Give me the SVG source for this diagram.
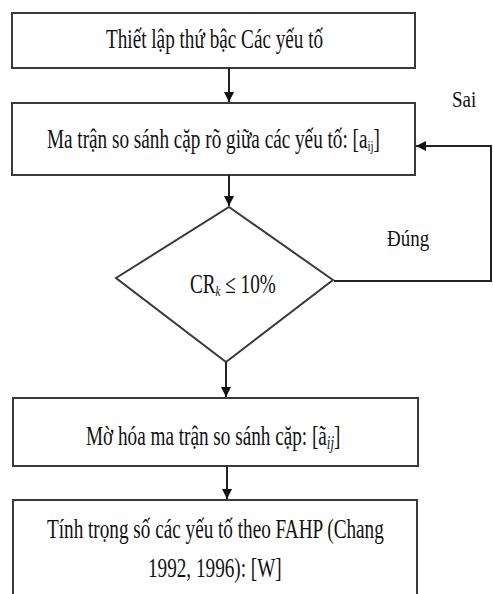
<svg xmlns="http://www.w3.org/2000/svg" width="493" height="594" viewBox="0 0 493 594">
<style>
.box{fill:#fff;stroke:#3a3a3a;stroke-width:2}
.ln{fill:none;stroke:#222;stroke-width:2}
.t{font-family:"Liberation Serif","Times New Roman",serif;font-size:19.2px;fill:#111}
.sub{font-size:11px}
.lb{font-family:"Liberation Serif","Times New Roman",serif;font-size:19px;fill:#111}
</style>
<defs>
<marker id="ah" viewBox="0 0 10 10" refX="10" refY="5" markerWidth="5" markerHeight="5" orient="auto" markerUnits="strokeWidth">
<path d="M0,0 L10,5 L0,10 z" fill="#111"/>
</marker>
</defs>
<g id="n1">
<rect class="box" x="12" y="13" width="403" height="55"/>
<text class="t" x="106" y="34.29" transform="scale(1,1.4)">Thiết lập thứ bậc Các yếu tố</text>
</g>
<g id="n2">
<rect class="box" x="12" y="103" width="403" height="72"/>
<text class="t" x="47" y="105.71" transform="scale(1,1.4)">Ma trận so sánh cặp rõ giữa các yếu tố: [a<tspan class="sub" dy="2.5">ij</tspan><tspan dy="-2.5">]</tspan></text>
</g>
<g id="n3">
<polygon class="box" points="229,207 333,280 226,362 116,278"/>
<text class="t" x="190" y="209.29" font-size="20.5" transform="scale(1,1.4)">CR<tspan class="sub" font-style="italic" dy="2.5">k</tspan><tspan dy="-2.5"> ≤ 10%</tspan></text>
</g>
<g id="n4">
<rect class="box" x="13" y="398" width="405" height="68"/>
<text class="t" x="86" y="317.86" transform="scale(1,1.4)">Mờ hóa ma trận so sánh cặp: [ã<tspan font-size="13" font-style="italic" dy="3">ij</tspan><tspan dy="-3">]</tspan></text>
</g>
<g id="n5">
<rect class="box" x="13" y="500" width="404" height="110"/>
<text class="t" x="47" y="384.29" transform="scale(1,1.4)">Tính trọng số các yếu tố theo FAHP (Chang</text>
<text class="t" x="148" y="412.14" transform="scale(1,1.4)">1992, 1996): [W]</text>
</g>
<g id="labels">
<text class="lb" x="452" y="89.17" transform="scale(1,1.2)">Sai</text>
<text class="lb" x="387" y="205" transform="scale(1,1.2)">Đúng</text>
</g>
<g id="connectors">
<line class="ln" x1="229" y1="68" x2="229" y2="102" marker-end="url(#ah)"/>
<line class="ln" x1="229" y1="175" x2="229" y2="206" marker-end="url(#ah)"/>
<line class="ln" x1="226" y1="362" x2="226" y2="397" marker-end="url(#ah)"/>
<line class="ln" x1="227" y1="466" x2="227" y2="499" marker-end="url(#ah)"/>
<polyline class="ln" points="334,281 491,281 491,146 416,146" marker-end="url(#ah)"/>
</g>
</svg>
